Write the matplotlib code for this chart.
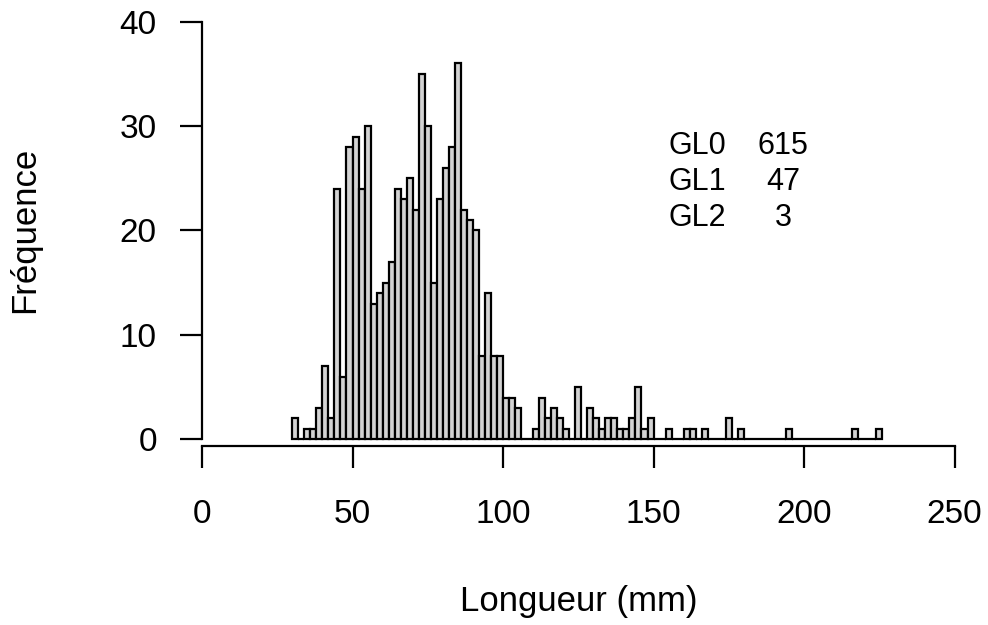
import matplotlib
matplotlib.use("Agg")
import matplotlib.pyplot as plt

plt.rcParams["font.family"] = ["Liberation Sans", "DejaVu Sans"]

# histogram of lengths, 2 mm bins starting at 30 mm
bin_start = 30
bin_width = 2
counts = [
    2, 0, 1, 1, 3, 7, 2, 24, 6, 28,          # 30-50
    29, 24, 30, 13, 14, 15, 17, 24, 23, 25,  # 50-70
    22, 35, 30, 15, 23, 26, 28, 36, 22, 21,  # 70-90
    20, 8, 14, 8, 8, 4, 4, 3, 0, 0,          # 90-110
    1, 4, 2, 3, 2, 1, 0, 5, 0, 3,            # 110-130
    2, 1, 2, 2, 1, 1, 2, 5, 1, 2,            # 130-150
    0, 0, 1, 0, 0, 1, 1, 0, 1, 0,            # 150-170
    0, 0, 2, 0, 1, 0, 0, 0, 0, 0,            # 170-190
    0, 0, 1, 0, 0, 0, 0, 0, 0, 0,            # 190-210
    0, 0, 0, 1, 0, 0, 0, 1,                  # 210-226
]
edges = [bin_start + i * bin_width for i in range(len(counts))]

x_ticks = [0, 50, 100, 150, 200, 250]
y_ticks = [0, 10, 20, 30, 40]

groups = ["GL0", "GL1", "GL2"]
group_n = [615, 47, 3]

W, H = 988, 625
fig = plt.figure(figsize=(W / 100, H / 100), dpi=100)
ax = fig.add_axes([0.1740, 0.2637, 0.8226, 0.7183])

ax.bar(edges, counts, width=bin_width, align="edge",
       color="#d3d3d3", edgecolor="black", linewidth=1.6)

ax.set_xlim(-10, 260)
ax.set_ylim(-2, 41)

for side in ["top", "right"]:
    ax.spines[side].set_visible(False)
ax.spines["left"].set_position(("data", 0))
ax.spines["left"].set_bounds(0, 40)
ax.spines["bottom"].set_position(("data", -0.64))
ax.spines["bottom"].set_bounds(0, 250)
for side in ["left", "bottom"]:
    ax.spines[side].set_linewidth(1.6)

ax.set_xticks(x_ticks)
ax.set_yticks(y_ticks)
ax.tick_params(axis="both", length=16, width=1.6, labelsize=24)
ax.tick_params(axis="x", pad=22)
ax.tick_params(axis="y", pad=16.5)

fig.text(579 / W, 1 - 611 / H, "Longueur (mm)", ha="center", va="baseline", fontsize=25)
fig.text(25 / W, 1 - 230 / H, "Fréquence", ha="center", va="center",
         rotation=90, fontsize=25)

for i, (g, n) in enumerate(zip(groups, group_n)):
    y = 1 - (154 + 36 * i) / H
    fig.text(668 / W, y, g, ha="left", va="baseline", fontsize=22)
    fig.text(783 / W, y, str(n), ha="center", va="baseline", fontsize=22)

fig.savefig("out.png", dpi=100)
